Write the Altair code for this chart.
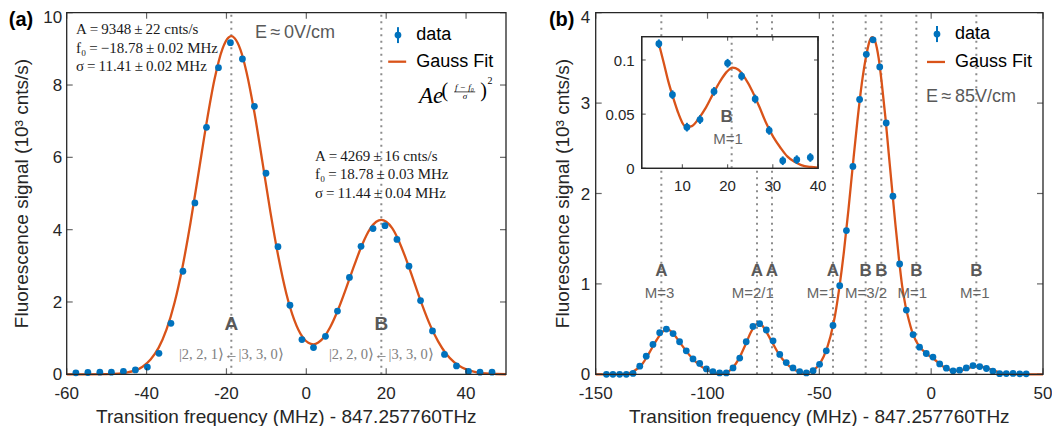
import altair as alt
import pandas as pd

# ---------------- data ----------------
# panel (a): E ~ 0 V/cm
freq_a = [-57.7, -54.7, -51.7, -48.8, -45.8, -42.8, -39.8, -36.9, -33.9, -30.9,
          -27.9, -25.0, -22.0, -19.0, -16.0, -13.0, -10.1, -7.1, -4.1, -1.1,
          1.8, 4.8, 7.8, 10.8, 13.7, 16.7, 19.7, 22.7, 25.7, 28.6,
          31.6, 34.6, 37.6, 40.6, 43.5, 46.5]
signal_a = [0.04, 0.05, 0.06, 0.06, 0.08, 0.12, 0.20, 0.58, 1.41, 2.85,
            4.74, 6.83, 8.48, 9.17, 8.72, 7.41, 5.56, 3.53, 1.91, 0.96,
            0.74, 1.05, 1.75, 2.68, 3.54, 4.03, 4.11, 3.73, 2.99, 2.04,
            1.20, 0.55, 0.23, 0.08, 0.06, 0.06]
fit_freq_a = [-60, -55, -50, -47, -45, -43, -41, -39, -37, -35,
              -33, -31, -29, -27, -25, -23, -21, -19.5, -18.8, -18,
              -16.5, -15, -13, -11, -9, -7, -5, -3, -1, 0.5,
              1.8, 3, 4.5, 6, 8, 10, 12, 14, 16, 17.5,
              18.8, 20, 21.5, 23, 25, 27, 29, 31, 33, 35,
              37, 39, 41, 43, 45, 47.5, 50]
fit_signal_a = [0.0, 0.0, 0.005, 0.02, 0.048, 0.10, 0.21, 0.41, 0.73, 1.24,
                1.98, 2.97, 4.19, 5.56, 6.94, 8.15, 9.00, 9.31, 9.35, 9.30,
                8.98, 8.37, 7.24, 5.88, 4.49, 3.25, 2.23, 1.50, 1.04, 0.87,
                0.83, 0.88, 1.04, 1.31, 1.80, 2.39, 3.01, 3.59, 4.03, 4.22,
                4.27, 4.22, 4.04, 3.73, 3.18, 2.55, 1.92, 1.36, 0.91, 0.57,
                0.34, 0.19, 0.10, 0.048, 0.022, 0.008, 0.002]
peaks_a = [-18.78, 18.78]
peak_names_a = ["A", "B"]
transitions_a = ["|2, 2, 1\u27e9\u2190|3, 3, 0\u27e9", "|2, 2, 0\u27e9\u2190|3, 3, 0\u27e9"]
params_left = ["A\u2009=\u20099348\u2009\u00b1\u200922 cnts/s",
               "f\u2080\u2009=\u2009\u221218.78\u2009\u00b1\u20090.02 MHz",
               "\u03c3\u2009=\u200911.41\u2009\u00b1\u20090.02 MHz"]
params_right = ["A\u2009=\u20094269\u2009\u00b1\u200916 cnts/s",
                "f\u2080\u2009=\u200918.78\u2009\u00b1\u20090.03 MHz",
                "\u03c3\u2009=\u200911.44\u2009\u00b1\u20090.04 MHz"]

# panel (b): E ~ 85 V/cm
freq_b = [-145.2, -142.3, -139.3, -136.3, -133.3, -130.3, -127.4, -124.4, -121.4, -118.4,
          -115.4, -112.5, -109.5, -106.5, -103.5, -100.5, -97.6, -94.6, -91.6, -88.6,
          -85.6, -82.7, -79.7, -76.7, -73.7, -70.7, -67.7, -64.8, -61.8, -58.8,
          -55.8, -52.8, -49.9, -46.9, -43.9, -40.9, -37.9, -35.0, -32.0, -29.0,
          -26.0, -23.0, -20.1, -17.1, -14.1, -11.1, -8.1, -5.2, -2.2, 0.8,
          3.8, 6.8, 9.8, 12.7, 15.7, 18.7, 21.7, 24.7, 27.6, 30.6,
          33.6, 36.6, 39.6, 42.5]
signal_b = [0.0, 0.0, 0.0, 0.0, 0.01, 0.09, 0.20, 0.33, 0.46, 0.50,
            0.45, 0.36, 0.26, 0.17, 0.12, 0.06, 0.03, 0.015, 0.015, 0.07,
            0.18, 0.36, 0.53, 0.56, 0.49, 0.37, 0.22, 0.13, 0.07, 0.03,
            0.015, 0.04, 0.11, 0.26, 0.54, 0.98, 1.59, 2.30, 3.04, 3.54,
            3.70, 3.40, 2.78, 1.97, 1.22, 0.71, 0.44, 0.30, 0.23, 0.19,
            0.115, 0.068, 0.038, 0.045, 0.071, 0.097, 0.085, 0.064, 0.035, 0.007,
            0.008, 0.010, 0.005, 0.005]
fit_freq_b = [-150, -142, -138, -135, -132, -129, -126, -123, -120.5, -118,
              -115, -112, -109, -106, -103, -100, -97, -94.5, -92, -89,
              -86, -83, -80.5, -78, -76, -74, -71, -68, -65, -62,
              -59, -56.5, -54, -51, -48, -45, -43, -41, -39, -37,
              -35, -33, -31, -29, -27.5, -26.3, -25, -23.5, -22, -20.5,
              -19, -17.5, -16, -14.5, -13, -11.5, -10, -8.5, -7, -5,
              -2, 1, 4, 7, 10, 12, 15, 18, 20.5, 23,
              26, 29, 32, 35, 38, 42, 50]
fit_signal_b = [0.0, 0.0, 0.002, 0.012, 0.05, 0.12, 0.24, 0.37, 0.46, 0.50,
                0.44, 0.34, 0.24, 0.155, 0.09, 0.045, 0.018, 0.008, 0.015, 0.065,
                0.17, 0.33, 0.47, 0.555, 0.55, 0.48, 0.35, 0.22, 0.125, 0.065,
                0.028, 0.014, 0.025, 0.08, 0.20, 0.42, 0.65, 0.97, 1.36, 1.82,
                2.32, 2.80, 3.22, 3.53, 3.69, 3.73, 3.68, 3.50, 3.20, 2.85,
                2.45, 2.05, 1.66, 1.30, 0.98, 0.76, 0.60, 0.47, 0.38, 0.30,
                0.225, 0.175, 0.11, 0.06, 0.038, 0.037, 0.055, 0.08, 0.09, 0.083,
                0.06, 0.032, 0.013, 0.004, 0.001, 0.0, 0.0]
lines_b = [-120.65, -77.88, -71.17, -43.9, -29.29, -22.29, -6.64, 20.19]
line_names_b = ["A", "A", "A", "A", "B", "B", "B", "B"]
m_names_b = ["M=3", "M=2/1", "M=1", "M=3/2", "M=1", "M=1"]
m_pos_b = [-121.4, -79.8, -49.0, -29.1, -8.4, 19.5]

# inset of panel (b)
freq_in = [4.8, 7.8, 11.0, 13.9, 17.0, 20.0, 23.1, 26.1, 29.2, 32.2, 35.3, 38.3]
signal_in = [0.115, 0.068, 0.038, 0.045, 0.071, 0.097, 0.085, 0.064, 0.035, 0.007, 0.008, 0.010]
err_in = [0.004, 0.004, 0.004, 0.004, 0.004, 0.004, 0.004, 0.004, 0.004, 0.004, 0.004, 0.004]
fit_freq_in = [4.8, 5.9, 6.9, 7.9, 9.0, 10.0, 10.8, 12.1, 13.6, 15.2, 16.7, 18.3, 19.8,
               21.1, 22.4, 23.9, 25.5, 27.0, 28.5, 30.1, 31.7, 33.2, 34.8, 36.3, 38.4, 40.0]
fit_signal_in = [0.115, 0.097, 0.080, 0.066, 0.052, 0.042, 0.038, 0.039, 0.046, 0.056, 0.068, 0.080, 0.089,
                 0.093, 0.091, 0.083, 0.071, 0.057, 0.042, 0.029, 0.019, 0.011, 0.006, 0.003, 0.0012, 0.0005]
line_in = [20.9]

# tick values and their labels
ticks_a_x = [-60, -40, -20, 0, 20, 40]
ticklabels_a_x = ["-60", "-40", "-20", "0", "20", "40"]
ticks_a_y = [0, 2, 4, 6, 8, 10]
ticklabels_a_y = ["0", "2", "4", "6", "8", "10"]
ticks_b_x = [-150, -100, -50, 0, 50]
ticklabels_b_x = ["-150", "-100", "-50", "0", "50"]
ticks_b_y = [0, 1, 2, 3, 4]
ticklabels_b_y = ["0", "1", "2", "3", "4"]
ticks_in_x = [10, 20, 30, 40]
ticklabels_in_x = ["10", "20", "30", "40"]
ticks_in_y = [0, 0.05, 0.1]
ticklabels_in_y = ["0", "0.05", "0.1"]

XTITLE = "Transition frequency (MHz) - 847.257760THz"
YTITLE = "Fluorescence signal (10\u00b3 cnts/s)"

# ---------------- styling / layout ----------------
BLUE, ORANGE = "#0072BD", "#D95319"
AXC, DOTC, LABC = "#262626", "#8c8c8c", "#595959"
SANS, SERIF = "Liberation Sans", "Liberation Serif"
W, H = 1044, 418
PLOT_Y = [366.3, 4.7]

sx_a = alt.Scale(domain=[-60, 50], range=[58.7, 498.0], nice=False, zero=False)
sy_a = alt.Scale(domain=[0, 10], range=PLOT_Y, nice=False, zero=False)
sx_b = alt.Scale(domain=[-150, 50], range=[587.7, 1035.0], nice=False, zero=False)
sy_b = alt.Scale(domain=[0, 4], range=PLOT_Y, nice=False, zero=False)
sx_i = alt.Scale(domain=[1, 40], range=[633.7, 810.0], nice=False, zero=False)
sy_i = alt.Scale(domain=[0, 0.1215], range=[160.3, 28.7], nice=False, zero=False)

one = pd.DataFrame({"k": [0]})


def XD(v, s):
    return alt.XDatum(v, scale=s, axis=None)


def YD(v, s):
    return alt.YDatum(v, scale=s, axis=None)


def XF(f, s):
    return alt.X(f, type="quantitative", scale=s, axis=None)


def YF(f, s):
    return alt.Y(f, type="quantitative", scale=s, axis=None)


def text(x, y, t, sx, sy, **kw):
    style = dict(font=SANS, fontSize=18, color="#000000", align="center", baseline="middle")
    style.update(kw)
    return alt.Chart(one).mark_text(text=t, **style).encode(x=XD(x, sx), y=YD(y, sy))


def frame(sx, sy, x0, x1, y0, y1, fill=None):
    mk = dict(stroke=AXC, strokeWidth=1.3)
    if fill:
        mk["fill"] = fill
    else:
        mk["fillOpacity"] = 0
    return alt.Chart(one).mark_rect(**mk).encode(
        x=XD(x0, sx), x2=alt.X2Datum(x1), y=YD(y0, sy), y2=alt.Y2Datum(y1))


def inward(sx, sy, xt, yt, x0, x1, y0, y1, L=6):
    dfx = pd.DataFrame({"t": xt})
    dfy = pd.DataFrame({"t": yt})
    st = dict(color=AXC, thickness=1.2, size=L)
    return [
        alt.Chart(dfx).mark_tick(orient="vertical", yOffset=-L / 2, **st).encode(x=XF("t", sx), y=YD(y0, sy)),
        alt.Chart(dfx).mark_tick(orient="vertical", yOffset=L / 2, **st).encode(x=XF("t", sx), y=YD(y1, sy)),
        alt.Chart(dfy).mark_tick(orient="horizontal", xOffset=L / 2, **st).encode(x=XD(x0, sx), y=YF("t", sy)),
        alt.Chart(dfy).mark_tick(orient="horizontal", xOffset=-L / 2, **st).encode(x=XD(x1, sx), y=YF("t", sy)),
    ]


def xlabels(sx, sy, ticks, labels, y0, size=17, dy=20):
    df = pd.DataFrame({"t": ticks, "lab": labels})
    return alt.Chart(df).mark_text(font=SANS, fontSize=size, color=AXC, baseline="middle", dy=dy).encode(
        x=XF("t", sx), y=YD(y0, sy), text="lab:N")


def ylabels(sx, sy, ticks, labels, x0, size=17, dx=-5, top_dy=1):
    # the top label is nudged down a little so that it is not cut by the page edge
    df = pd.DataFrame({"t": ticks[:-1], "lab": labels[:-1]})
    df_top = pd.DataFrame({"t": ticks[-1:], "lab": labels[-1:]})
    st = dict(font=SANS, fontSize=size, color=AXC, baseline="middle", align="right", dx=dx)
    return [
        alt.Chart(df).mark_text(dy=1, **st).encode(x=XD(x0, sx), y=YF("t", sy), text="lab:N"),
        alt.Chart(df_top).mark_text(dy=top_dy, **st).encode(x=XD(x0, sx), y=YF("t", sy), text="lab:N"),
    ]


# ---------------- panel (a) ----------------
df_a = pd.DataFrame({"f": freq_a, "s": signal_a})
df_fit_a = pd.DataFrame({"f": fit_freq_a, "s": fit_signal_a})
df_pk_a = pd.DataFrame({"f": peaks_a, "name": peak_names_a, "tr": transitions_a})
df_par_l = pd.DataFrame({"t": params_left, "y": [9.54, 9.03, 8.53]})
df_par_r = pd.DataFrame({"t": params_right, "y": [6.04, 5.54, 5.02]})

a_layers = [
    alt.Chart(df_pk_a).mark_rule(color=DOTC, strokeWidth=2, strokeDash=[2, 4.5]).encode(
        x=XF("f", sx_a), y=YD(0, sy_a), y2=alt.Y2Datum(10)),
    alt.Chart(df_fit_a).mark_line(color=ORANGE, strokeWidth=2.3, interpolate="monotone").encode(
        x=XF("f", sx_a), y=YF("s", sy_a)),
    alt.Chart(df_a).mark_circle(size=46, color=BLUE, opacity=1).encode(x=XF("f", sx_a), y=YF("s", sy_a)),
    alt.Chart(df_pk_a).mark_text(font=SANS, fontSize=19, fontWeight="bold", color=LABC).encode(
        x=XF("f", sx_a), y=YD(1.40, sy_a), text="name:N"),
    alt.Chart(df_pk_a).mark_text(font=SERIF, fontSize=14.5, color="#808080").encode(
        x=XF("f", sx_a), y=YD(0.52, sy_a), text="tr:N"),
    alt.Chart(df_par_l).mark_text(font=SERIF, fontSize=15, color="#1a1a1a", align="left").encode(
        x=XD(-57.67, sx_a), y=YF("y", sy_a), text="t:N"),
    alt.Chart(df_par_r).mark_text(font=SERIF, fontSize=15, color="#1a1a1a", align="left").encode(
        x=XD(2.18, sx_a), y=YF("y", sy_a), text="t:N"),
    text(-2.83, 9.43, "E\u2009\u2248\u20090V/cm", sx_a, sy_a, color=LABC),
    # legend
    alt.Chart(one).mark_rule(color=BLUE, strokeWidth=2).encode(
        x=XD(22.95, sx_a), y=YD(9.16, sy_a), y2=alt.Y2Datum(9.60)),
    alt.Chart(one).mark_circle(size=46, color=BLUE, opacity=1).encode(x=XD(22.95, sx_a), y=YD(9.38, sy_a)),
    text(27.5, 9.38, "data", sx_a, sy_a, align="left"),
    alt.Chart(one).mark_rule(color=ORANGE, strokeWidth=2.3).encode(
        x=XD(20.5, sx_a), x2=alt.X2Datum(25.0), y=YD(8.645, sy_a)),
    text(27.5, 8.645, "Gauss Fit", sx_a, sy_a, align="left"),
    # formula  A e^{((f-f0)/sigma)^2}
    text(28.2, 7.51, "Ae", sx_a, sy_a, font=SERIF, fontStyle="italic", fontSize=23, align="left",
         baseline="alphabetic"),
    text(34.7, 7.83, "(", sx_a, sy_a, font=SERIF, fontSize=20),
    text(39.6, 7.94, "f \u2212 f\u2080", sx_a, sy_a, font=SERIF, fontStyle="italic", fontSize=9),
    alt.Chart(one).mark_rule(color="#000000", strokeWidth=0.7).encode(
        x=XD(37.0, sx_a), x2=alt.X2Datum(42.3), y=YD(7.81, sy_a)),
    text(39.7, 7.69, "\u03c3", sx_a, sy_a, font=SERIF, fontStyle="italic", fontSize=9),
    text(44.4, 7.83, ")", sx_a, sy_a, font=SERIF, fontSize=20),
    text(46.0, 8.10, "2", sx_a, sy_a, font=SERIF, fontSize=10),
    # tick labels and titles
    xlabels(sx_a, sy_a, ticks_a_x, ticklabels_a_x, 0),
    *ylabels(sx_a, sy_a, ticks_a_y, ticklabels_a_y, -60, dx=-4.5, top_dy=5),
    text(-5, -1.18, XTITLE, sx_a, sy_a, fontSize=19, color=AXC),
    text(-71.07, 5.0, YTITLE, sx_a, sy_a, fontSize=19, color=AXC, angle=270),
    text(-74.5, 10.08, "(a)", sx_a, sy_a, fontSize=20, fontWeight="bold", align="left", baseline="top"),
] + inward(sx_a, sy_a, ticks_a_x, ticks_a_y, -60, 50, 0, 10) + [frame(sx_a, sy_a, -60, 50, 0, 10)]
panel_a = alt.layer(*a_layers)

# ---------------- panel (b) ----------------
df_b = pd.DataFrame({"f": freq_b, "s": signal_b})
df_fit_b = pd.DataFrame({"f": fit_freq_b, "s": fit_signal_b})
df_lines_b = pd.DataFrame({"f": lines_b, "name": line_names_b})
df_m_b = pd.DataFrame({"f": m_pos_b, "name": m_names_b})

b_layers = [
    alt.Chart(df_lines_b).mark_rule(color=DOTC, strokeWidth=2, strokeDash=[2, 4.5]).encode(
        x=XF("f", sx_b), y=YD(0, sy_b), y2=alt.Y2Datum(4)),
    alt.Chart(df_fit_b).mark_line(color=ORANGE, strokeWidth=2.3, interpolate="monotone").encode(
        x=XF("f", sx_b), y=YF("s", sy_b)),
    alt.Chart(df_b).mark_circle(size=46, color=BLUE, opacity=1).encode(x=XF("f", sx_b), y=YF("s", sy_b)),
    alt.Chart(df_lines_b).mark_text(font=SANS, fontSize=17, fontWeight="bold", color=LABC).encode(
        x=XF("f", sx_b), y=YD(1.148, sy_b), text="name:N"),
    alt.Chart(df_m_b).mark_text(font=SANS, fontSize=15, color="#666666").encode(
        x=XF("f", sx_b), y=YD(0.896, sy_b), text="name:N"),
    text(17.8, 3.067, "E\u2009\u2248\u200985V/cm", sx_b, sy_b, color=LABC),
    alt.Chart(one).mark_rule(color=BLUE, strokeWidth=2).encode(
        x=XD(2.6, sx_b), y=YD(3.675, sy_b), y2=alt.Y2Datum(3.853)),
    alt.Chart(one).mark_circle(size=46, color=BLUE, opacity=1).encode(x=XD(2.6, sx_b), y=YD(3.764, sy_b)),
    text(10.65, 3.764, "data", sx_b, sy_b, align="left"),
    alt.Chart(one).mark_rule(color=ORANGE, strokeWidth=2.3).encode(
        x=XD(-1.87, sx_b), x2=alt.X2Datum(6.17), y=YD(3.455, sy_b)),
    text(10.65, 3.455, "Gauss Fit", sx_b, sy_b, align="left"),
    xlabels(sx_b, sy_b, ticks_b_x, ticklabels_b_x, 0),
    *ylabels(sx_b, sy_b, ticks_b_y, ticklabels_b_y, -150, dx=-5.5, top_dy=5),
    text(-50, -0.472, XTITLE, sx_b, sy_b, fontSize=19, color=AXC),
    text(-164.4, 2.0, YTITLE, sx_b, sy_b, fontSize=19, color=AXC, angle=270),
    text(-170.9, 4.035, "(b)", sx_b, sy_b, fontSize=20, fontWeight="bold", align="left", baseline="top"),
] + inward(sx_b, sy_b, ticks_b_x, ticks_b_y, -150, 50, 0, 4) + [frame(sx_b, sy_b, -150, 50, 0, 4)]
panel_b = alt.layer(*b_layers)

# ---------------- inset ----------------
df_in = pd.DataFrame({"f": freq_in, "s": signal_in, "e": err_in})
df_fit_in = pd.DataFrame({"f": fit_freq_in, "s": fit_signal_in})
df_line_in = pd.DataFrame({"f": line_in})

in_layers = [
    frame(sx_i, sy_i, 1, 40, 0, 0.1215, fill="white"),
    alt.Chart(df_line_in).mark_rule(color=DOTC, strokeWidth=2, strokeDash=[2, 4.5]).encode(
        x=XF("f", sx_i), y=YD(0, sy_i), y2=alt.Y2Datum(0.1215)),
    alt.Chart(df_fit_in).mark_line(color=ORANGE, strokeWidth=2.3, interpolate="monotone").encode(
        x=XF("f", sx_i), y=YF("s", sy_i)),
    alt.Chart(df_in).transform_calculate(lo="datum.s - datum.e", hi="datum.s + datum.e").mark_rule(
        color=BLUE, strokeWidth=2).encode(x=XF("f", sx_i), y=YF("lo", sy_i), y2="hi:Q"),
    alt.Chart(df_in).mark_circle(size=46, color=BLUE, opacity=1).encode(x=XF("f", sx_i), y=YF("s", sy_i)),
    text(19.8, 0.047, "B", sx_i, sy_i, fontSize=17, fontWeight="bold", color=LABC),
    text(20.1, 0.027, "M=1", sx_i, sy_i, fontSize=15, color="#666666"),
    xlabels(sx_i, sy_i, ticks_in_x, ticklabels_in_x, 0, size=15, dy=18),
    *ylabels(sx_i, sy_i, ticks_in_y, ticklabels_in_y, 1, size=15, dx=-7, top_dy=1),
] + inward(sx_i, sy_i, ticks_in_x, ticks_in_y, 1, 40, 0, 0.1215, L=4) + [frame(sx_i, sy_i, 1, 40, 0, 0.1215)]
inset = alt.layer(*in_layers)

chart = alt.layer(panel_a, panel_b, inset).resolve_scale(
    x="independent", y="independent").properties(
    width=W, height=H, padding=0, autosize=alt.AutoSizeParams(type="none")).configure(
    font=SANS).configure_view(strokeWidth=0)

chart.save("out.html", embed_options={"renderer": "svg", "actions": False})
